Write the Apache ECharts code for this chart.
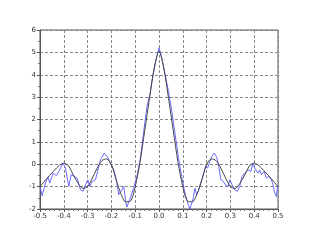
<!DOCTYPE html>
<html><head><meta charset="utf-8">
<script src="https://cdn.jsdelivr.net/npm/echarts@6/dist/echarts.min.js"></script>
<style>html,body{margin:0;padding:0;background:#fff}#c{width:318px;height:240px}</style>
</head><body><div id="c"></div>
<script>
var xTicks = [-0.5,-0.4,-0.3,-0.2,-0.1,0,0.1,0.2,0.3,0.4,0.5];
var yTicks = [-2,-1,0,1,2,3,4,5,6];

var smoothX = [-0.50,-0.48,-0.46,-0.44,-0.42,-0.40,-0.38,-0.36,-0.34,-0.32,-0.30,-0.28,-0.26,-0.24,-0.22,-0.20,-0.18,-0.16,-0.14,-0.12,-0.10,-0.08,-0.06,-0.04,-0.02,0.00,
  0.02,0.04,0.06,0.08,0.10,0.12,0.14,0.16,0.18,0.20,0.22,0.24,0.26,0.28,0.30,0.32,0.34,0.36,0.38,0.40,0.42,0.44,0.46,0.48,0.50];
var smoothY = [-1.00,-0.75,-0.50,-0.28,-0.06,0.05,-0.08,-0.48,-0.85,-1.08,-1.00,-0.62,-0.18,0.16,0.24,-0.02,-0.70,-1.32,-1.68,-1.65,-1.00,0.08,1.50,2.95,4.30,5.05,
  4.30,2.95,1.50,0.08,-1.00,-1.65,-1.68,-1.32,-0.70,-0.02,0.24,0.16,-0.18,-0.62,-1.00,-1.08,-0.85,-0.48,-0.08,0.05,-0.06,-0.28,-0.50,-0.75,-1.00];

var noisyX = [-0.498,-0.491,-0.477,-0.467,-0.459,-0.445,-0.431,-0.421,-0.414,-0.403,-0.393,-0.379,-0.369,-0.355,-0.344,-0.330,-0.319,-0.309,-0.299,-0.291,-0.281,-0.267,-0.258,-0.246,-0.230,-0.218,-0.204,-0.190,-0.179,-0.169,-0.160,-0.148,-0.141,-0.135,-0.128,-0.118,-0.107,-0.093,-0.079,-0.065,-0.050,-0.037,-0.025,-0.012,0.000,
  0.012,0.026,0.040,0.054,0.068,0.082,0.095,0.109,0.123,0.130,0.137,0.144,0.151,0.158,0.165,0.176,0.186,0.195,0.204,0.214,0.221,0.232,0.242,0.251,0.260,0.270,0.279,0.291,0.297,0.307,0.318,0.329,0.339,0.349,0.360,0.367,0.377,0.386,0.395,0.402,0.410,0.416,0.423,0.430,0.442,0.451,0.461,0.472,0.479,0.486,0.493,0.498];
var noisyY = [-1.07,-1.41,-0.84,-0.57,-0.84,-0.40,-0.51,-0.32,-0.40,0.05,-0.17,-0.99,-0.47,-0.54,-0.62,-1.14,-1.21,-0.92,-0.69,-0.99,-0.77,-0.69,-0.32,0.20,0.50,0.35,0.05,-0.25,-0.69,-1.36,-1.21,-0.99,-1.59,-1.91,-1.96,-1.44,-1.07,-0.54,0.20,1.40,2.60,3.20,4.00,4.70,5.21,
  4.74,3.99,3.25,2.36,1.31,0.27,-0.54,-1.29,-1.81,-2.00,-1.96,-1.51,-1.07,-1.36,-1.21,-0.84,-0.47,-0.10,-0.17,0.12,0.32,0.50,0.32,-0.10,-0.69,-0.77,-0.92,-0.99,-0.69,-0.92,-1.14,-1.21,-0.99,-0.54,-0.40,-0.47,-0.25,-0.32,0.05,-0.17,-0.10,-0.40,-0.25,-0.47,-0.32,-0.62,-0.54,-0.69,-0.92,-1.29,-1.44,-0.99];

function pairs(xs, ys){ return xs.map(function(x,i){return [x, ys[i]];}); }

var chart = echarts.init(document.getElementById('c'), null, {renderer:'canvas'});
var lblFont = {fontSize:7, color:'#333', fontFamily:'DejaVu Sans'};
chart.setOption({
  animation:false,
  grid:{left:40, right:40, top:30, bottom:31, show:true, borderColor:'#555', borderWidth:1, backgroundColor:'transparent'},
  xAxis:{type:'value', min:xTicks[0], max:xTicks[xTicks.length-1], interval:0.1,
    axisLine:{show:true, onZero:false, lineStyle:{color:'#555'}},
    axisTick:{show:true, inside:false, length:3, lineStyle:{color:'#555'}},
    minorTick:{show:true, splitNumber:5, length:2, lineStyle:{color:'#777'}},
    axisLabel:Object.assign({margin:4, formatter:function(v){return v.toFixed(1);}}, lblFont),
    splitLine:{show:true, lineStyle:{color:'#888', type:[3,2], width:1}}},
  yAxis:{type:'value', min:yTicks[0], max:yTicks[yTicks.length-1], interval:1,
    axisLine:{show:true, onZero:false, lineStyle:{color:'#555'}},
    axisTick:{show:true, inside:false, length:3, lineStyle:{color:'#555'}},
    minorTick:{show:true, splitNumber:2, length:2, lineStyle:{color:'#777'}},
    axisLabel:Object.assign({margin:4}, lblFont),
    splitLine:{show:true, lineStyle:{color:'#888', type:[3,2], width:1}}},
  series:[
    {type:'line', data:pairs(noisyX, noisyY), showSymbol:false, lineStyle:{color:'#6a6aff', width:1}, z:2},
    {type:'line', data:pairs(smoothX, smoothY), smooth:0.3, showSymbol:false, lineStyle:{color:'#444', width:1}, z:3}
  ]
});
</script></body></html>
